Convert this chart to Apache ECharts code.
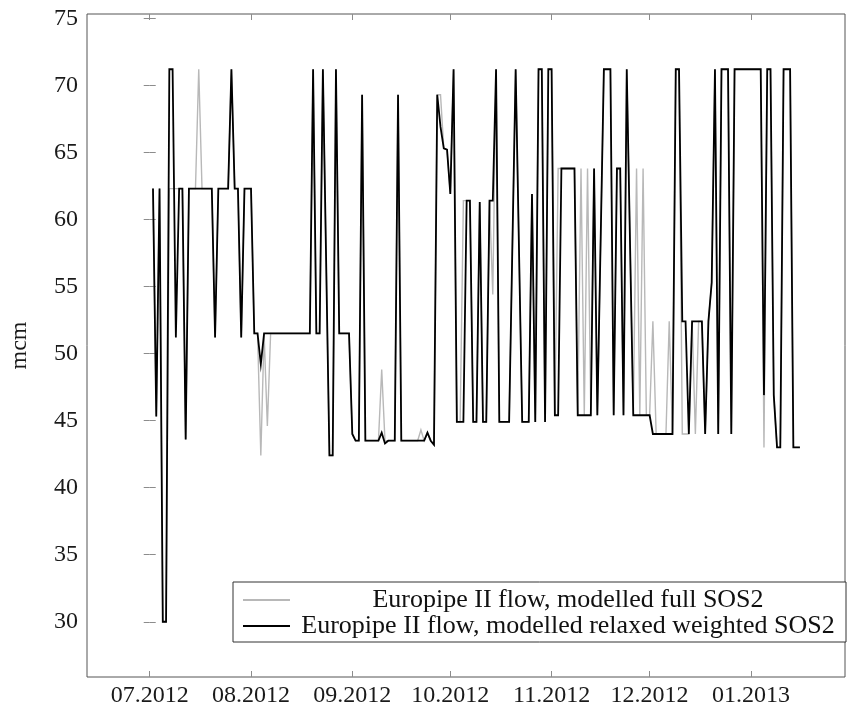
<!DOCTYPE html>
<html>
<head>
<meta charset="utf-8">
<title>Europipe II flow</title>
<script src="https://cdn.jsdelivr.net/npm/echarts@6/dist/echarts.min.js"></script>
<style>
  html, body { margin: 0; padding: 0; background: #fff; }
  #chart { width: 856px; height: 709px; }
</style>
</head>
<body>
<div id="chart"></div>
<script>
// Daily values; x = days counted from 01.07.2012, first value on day 1. null = no value that day.
const firstDay = 1;

// Europipe II flow, modelled relaxed weighted SOS2 [mcm]
const relaxedFlow = [
  62.3, 45.3, 62.3, 30.0, 30.0, 71.2, 71.2, 51.2, 62.3, 62.3,
  43.6, 62.3, 62.3, 62.3, 62.3, 62.3, 62.3, 62.3, 62.3, 51.2,
  62.3, 62.3, 62.3, 62.3, 71.2, 62.3, 62.3, 51.2, 62.3, 62.3,
  62.3, 51.5, 51.5, 49.2, 51.5, 51.5, 51.5, 51.5, 51.5, 51.5,
  51.5, 51.5, 51.5, 51.5, 51.5, 51.5, 51.5, 51.5, 51.5, 71.2,
  51.5, 51.5, 71.2, null, 42.4, 42.4, 71.2, 51.5, 51.5, 51.5,
  51.5, 44.0, 43.5, 43.5, 69.3, 43.5, 43.5, 43.5, 43.5, 43.5,
  44.1, 43.3, 43.5, 43.5, 43.5, 69.3, 43.5, 43.5, 43.5, 43.5,
  43.5, 43.5, 43.5, 43.5, 44.1, 43.5, 43.2, 69.3, 66.9, 65.3,
  65.2, 61.9, 71.2, 44.9, 44.9, 44.9, 61.4, 61.4, 44.9, 44.9,
  61.3, 44.9, 44.9, 61.4, 61.4, 71.2, 44.9, 44.9, 44.9, 44.9,
  null, 71.2, null, 44.9, 44.9, 44.9, 61.9, 44.9, 71.2, 71.2,
  44.9, 71.2, 71.2, 45.4, 45.4, 63.8, 63.8, 63.8, 63.8, 63.8,
  45.4, 45.4, 45.4, 45.4, 45.4, 63.8, 45.4, null, 71.2, 71.2,
  71.2, 45.4, 63.8, 63.8, 45.4, 71.2, null, 45.4, 45.4, 45.4,
  45.4, 45.4, 45.4, 44.0, 44.0, 44.0, 44.0, 44.0, 44.0, 44.0,
  71.2, 71.2, 52.4, 52.4, 44.0, 52.4, 52.4, 52.4, 52.4, 44.0,
  52.4, 55.3, 71.2, 44.0, 71.2, 71.2, 71.2, 44.0, 71.2, 71.2,
  71.2, 71.2, 71.2, 71.2, 71.2, 71.2, 71.2, 46.9, 71.2, 71.2,
  46.9, 43.0, 43.0, 71.2, 71.2, 71.2, 43.0, 43.0, 43.0
];

// Europipe II flow, modelled full SOS2 [mcm]
const fullFlow = [
  62.3, 45.3, 62.3, 30.0, 30.0, 62.3, 62.3, 62.3, 62.3, 62.3,
  43.6, 62.3, 62.3, 62.3, 71.2, 62.3, 62.3, 62.3, 62.3, 51.2,
  62.3, 62.3, 62.3, 62.3, 71.2, 62.3, 62.3, 51.2, 62.3, 62.3,
  62.3, 51.5, 51.5, 42.4, 51.5, 44.6, 51.5, 51.5, 51.5, 51.5,
  51.5, 51.5, 51.5, 51.5, 51.5, 51.5, 51.5, 51.5, 51.5, 71.2,
  51.5, 51.5, 71.2, null, 42.4, 42.4, 71.2, 51.5, 51.5, 51.5,
  51.5, 44.0, 43.5, 43.5, 69.3, 43.5, 43.5, 43.5, 43.5, 43.5,
  48.8, 43.5, 43.5, 43.5, 43.5, 69.3, 43.5, 43.5, 43.5, 43.5,
  43.5, 43.5, 44.3, 43.5, 44.1, 43.5, 43.2, 69.3, 69.3, 65.3,
  65.2, 61.9, 71.2, 44.9, 44.9, 61.4, 61.4, 61.4, 44.9, 44.9,
  61.3, 44.9, 44.9, 61.4, 54.4, 71.2, 44.9, 44.9, 44.9, 44.9,
  null, 71.2, null, 44.9, 44.9, 44.9, 61.9, 44.9, 71.2, 71.2,
  44.9, 71.2, 71.2, 45.4, 63.8, 63.8, 63.8, 63.8, 63.8, 63.8,
  45.4, 63.8, 45.4, 63.8, 45.4, 63.8, 45.4, null, 71.2, 71.2,
  71.2, 45.4, 63.8, 63.8, 45.4, 71.2, null, 45.4, 63.8, 45.4,
  63.8, 45.4, 45.4, 52.4, 44.0, 44.0, 44.0, 44.0, 52.4, 44.0,
  71.2, 71.2, 44.0, 44.0, 44.0, 52.4, 44.0, 52.4, 52.4, 44.0,
  52.4, 55.3, 71.2, 44.0, 71.2, 71.2, 71.2, 44.0, 71.2, 71.2,
  71.2, 71.2, 71.2, 71.2, 71.2, 71.2, 71.2, 43.0, 71.2, 71.2,
  46.9, 43.0, 43.0, 71.2, 71.2, 71.2, 43.0, 43.0, 43.0
];

// x ticks: first day of each month, counted from 01.07.2012
const monthTicks = [0, 31, 62, 92, 123, 153, 184];
const monthLabels = ['07.2012', '08.2012', '09.2012', '10.2012', '11.2012', '12.2012', '01.2013'];
const yTicks = [30, 35, 40, 45, 50, 55, 60, 65, 70, 75];

const seriesNames = [
  'Europipe II flow, modelled full SOS2',
  'Europipe II flow, modelled relaxed weighted SOS2'
];

const FONT = 'Liberation Serif';
const toPoints = arr => arr.map((v, i) => [firstDay + i, v]);

const X_MIN = -19.2, X_MAX = 212.8;
const Y_MIN = 25.88, Y_MAX = 75.32;

const tickStyle = { show: true, inside: true, length: 6, lineStyle: { color: '#8c8c8c', width: 1 } };

const chart = echarts.init(document.getElementById('chart'), null, { renderer: 'canvas' });
chart.setOption({
  animation: false,
  backgroundColor: '#fff',
  textStyle: { fontFamily: FONT },
  grid: {
    left: 80, top: 14, right: 11, bottom: 32,
    show: true, borderColor: '#555', borderWidth: 1, backgroundColor: 'transparent'
  },
  xAxis: [
    {
      type: 'value', position: 'bottom', min: X_MIN, max: X_MAX,
      axisLine: { show: false }, splitLine: { show: false },
      axisTick: Object.assign({ customValues: monthTicks }, tickStyle),
      axisLabel: {
        customValues: monthTicks, margin: 7, hideOverlap: false,
        fontFamily: FONT, fontSize: 24, color: '#1a1a1a',
        formatter: v => monthLabels[monthTicks.indexOf(v)]
      }
    },
    {
      type: 'value', position: 'top', min: X_MIN, max: X_MAX,
      axisLine: { show: false }, splitLine: { show: false },
      axisTick: Object.assign({ customValues: monthTicks }, tickStyle),
      axisLabel: { show: false }
    }
  ],
  yAxis: [
    {
      type: 'value', position: 'left', min: Y_MIN, max: Y_MAX,
      name: 'mcm', nameLocation: 'middle', nameGap: 55,
      nameTextStyle: { fontFamily: FONT, fontSize: 24, color: '#1a1a1a' },
      axisLine: { show: false }, splitLine: { show: false },
      axisTick: Object.assign({ customValues: yTicks }, tickStyle),
      axisLabel: { customValues: yTicks, margin: 9, fontFamily: FONT, fontSize: 24, color: '#1a1a1a' }
    },
    {
      type: 'value', position: 'right', min: Y_MIN, max: Y_MAX,
      axisLine: { show: false }, splitLine: { show: false },
      axisTick: Object.assign({ customValues: yTicks }, tickStyle),
      axisLabel: { show: false }
    }
  ],
  legend: {
    orient: 'vertical', left: 233, top: 582,
    padding: [5, 5, 3, 10], itemGap: 0, itemWidth: 47, itemHeight: 2,
    icon: 'rect',
    borderColor: '#333', borderWidth: 1, backgroundColor: '#fff',
    selectedMode: false,
    data: seriesNames,
    formatter: name => '{c|' + name + '}',
    textStyle: {
      fontFamily: FONT, fontSize: 26, color: '#111',
      rich: { c: { width: 546, align: 'center', fontFamily: FONT, fontSize: 26, lineHeight: 33, color: '#111' } }
    }
  },
  series: [
    {
      name: seriesNames[0], type: 'line', data: toPoints(fullFlow),
      showSymbol: false, symbol: 'none', connectNulls: true,
      lineStyle: { color: '#b8b8b8', width: 1.4, join: 'miter' },
      itemStyle: { color: '#b8b8b8' }
    },
    {
      name: seriesNames[1], type: 'line', data: toPoints(relaxedFlow),
      showSymbol: false, symbol: 'none', connectNulls: true,
      lineStyle: { color: '#000', width: 1.8, join: 'miter' },
      itemStyle: { color: '#000' }
    }
  ]
});
</script>
</body>
</html>
